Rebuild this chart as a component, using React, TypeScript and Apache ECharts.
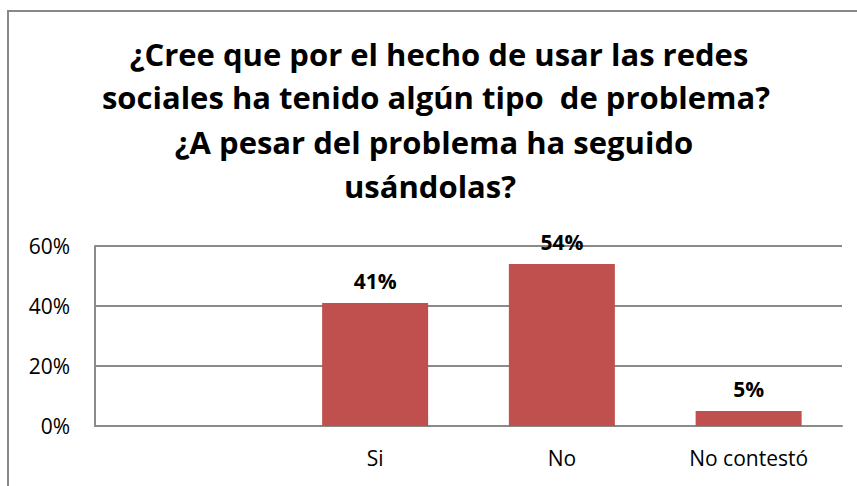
import React, { useEffect, useRef } from "react";
import * as echarts from "echarts";

const categories = ["", "Si", "No", "No contestó"];
const values: (number | null)[] = [null, 41, 54, 5];
const yTicks = { min: 0, max: 60, interval: 20 };
const titleLines = [
  "¿Cree que por el hecho de usar las redes",
  "sociales ha tenido algún tipo  de problema?",
  "¿A pesar del problema ha seguido",
  "usándolas?",
];
const titleCenters = [439, 436, 434, 430];
const titleBaselines = [65, 108, 153, 197];

const FONT = "'Open Sans', 'Noto Sans', sans-serif";

export default function App() {
  const ref = useRef<HTMLDivElement>(null);
  useEffect(() => {
    if (!ref.current) return;
    const chart = echarts.init(ref.current, undefined, { renderer: "svg" });
    const titleFont = 31;
    chart.setOption({
      animation: false,
      backgroundColor: "#ffffff",
      textStyle: { fontFamily: FONT },
      graphic: [
        {
          type: "rect",
          shape: { x: 8, y: 11, width: 900, height: 520 },
          style: { fill: "none", stroke: "#888888", lineWidth: 2 },
          silent: true,
        },
        ...titleLines.map((t, i) => ({
          type: "text",
          x: titleCenters[i],
          y: titleBaselines[i] - titleFont * 0.35,
          style: {
            text: t,
            fill: "#000000",
            font: `bold ${titleFont}px ${FONT}`,
            align: "center",
            verticalAlign: "middle",
          },
        })),
      ],
      grid: { left: 95, right: 15, top: 246, bottom: 60 },
      xAxis: {
        type: "category",
        data: categories,
        axisLine: { lineStyle: { color: "#8a8a8a", width: 2 } },
        axisTick: { show: false },
        axisLabel: { color: "#000", fontSize: 21, fontFamily: FONT, margin: 21 },
      },
      yAxis: {
        type: "value",
        min: yTicks.min,
        max: yTicks.max,
        interval: yTicks.interval,
        axisLine: { show: true, lineStyle: { color: "#8a8a8a", width: 2 } },
        axisTick: { show: false },
        splitLine: { lineStyle: { color: "#8a8a8a", width: 2 } },
        axisLabel: {
          color: "#000",
          fontSize: 21,
          fontFamily: FONT,
          margin: 25,
          formatter: "{value}%",
        },
      },
      series: [
        {
          type: "bar",
          data: values,
          barWidth: 106,
          itemStyle: { color: "#c0504d" },
          label: {
            show: true,
            position: "top",
            distance: 12,
            formatter: "{c}%",
            color: "#000",
            fontWeight: "bold",
            fontSize: 21,
            fontFamily: FONT,
          },
        },
      ],
    });
    return () => chart.dispose();
  }, []);
  return (
    <div
      ref={ref}
      style={{ position: "absolute", left: 0, top: 0, width: 857, height: 486 }}
    />
  );
}
